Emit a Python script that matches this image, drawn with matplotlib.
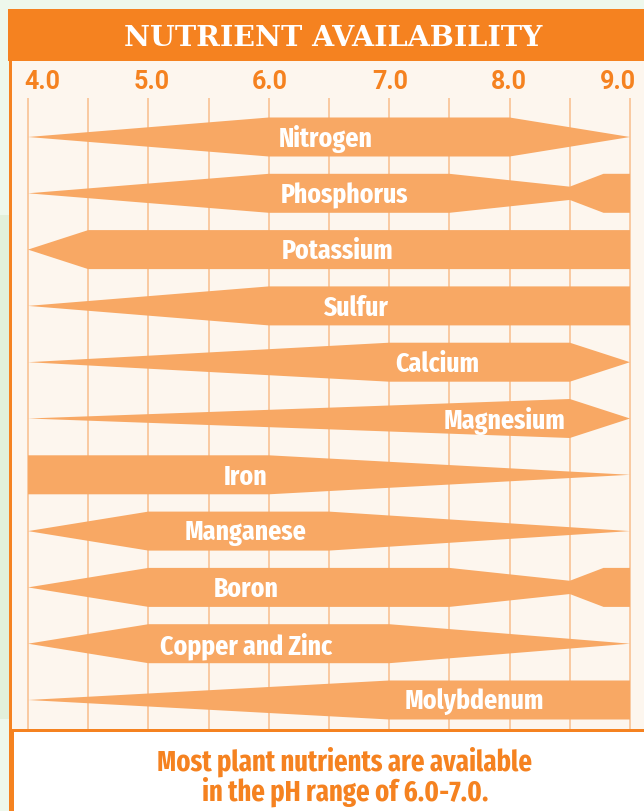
import matplotlib
matplotlib.use("Agg")
import matplotlib.pyplot as plt
from matplotlib import font_manager as fm
from matplotlib.patches import Rectangle, Polygon

# nutrient availability chart, pH 4.0 - 9.0
nutrients = ["Nitrogen", "Phosphorus", "Potassium", "Sulfur", "Calcium", "Magnesium",
             "Iron", "Manganese", "Boron", "Copper and Zinc", "Molybdenum"]

# band profile: (pH, relative thickness 0..1)
profiles = [
    [(4.0, 0), (6.0, 1), (8.0, 1), (9.0, 0)],
    [(4.0, 0), (6.0, 1), (7.5, 1), (8.5, 0.34), (8.78, 1), (9.0, 1)],
    [(4.0, 0), (4.5, 1), (9.0, 1)],
    [(4.0, 0), (6.0, 1), (9.0, 1)],
    [(4.0, 0), (7.0, 1), (8.5, 1), (9.0, 0)],
    [(4.0, 0), (8.5, 1), (9.0, 0)],
    [(4.0, 1), (6.0, 1), (9.0, 0)],
    [(4.0, 0), (5.0, 1), (6.5, 1), (9.0, 0)],
    [(4.0, 0), (5.0, 1), (7.5, 1), (8.5, 0.34), (8.78, 1), (9.0, 1)],
    [(4.0, 0), (5.0, 1), (7.0, 1), (9.0, 0)],
    [(4.0, 0), (7.0, 1), (9.0, 1)],
]

# where each name sits along the band (pH)
label_ph = [6.47, 6.63, 6.57, 6.72, 7.40, 7.96, 5.81, 5.81, 5.81, 5.81, 7.71]

tick_text = ["4.0", "5.0", "6.0", "7.0", "8.0", "9.0"]
tick_pos = [4.12, 5.03, 6.01, 7.01, 7.99, 8.90]
grid_ph = [4.0, 4.5, 5.0, 5.5, 6.0, 6.5, 7.0, 7.5, 8.0, 8.5, 9.0]

ORANGE = "#f58220"
BAND = "#f8a864"
CREAM = "#fdf6ee"
GRID = "#f9c69a"


def wt(f):
    w = f.weight
    if isinstance(w, str):
        return 700 if "bold" in w.lower() else 400
    return w


# look for the narrowest bold sans file, else Roboto bold
cands = []
for f in fm.fontManager.ttflist:
    nm = f.name.lower()
    fn = f.fname.lower().replace("-", "").replace("_", "")
    if "mono" in nm or "serif" in nm or "cjk" in nm or "italic" in str(f.style) or "oblique" in str(f.style):
        continue
    if not (650 <= wt(f) <= 750):
        continue
    if "extracondensed" in fn or "ultracondensed" in fn or "extcond" in fn:
        r = 0
    elif "semicondensed" in fn:
        r = 3
    elif "condensed" in fn or "narrow" in fn or "condensed" in nm or "narrow" in nm or "cond" in str(f.stretch):
        r = 2
    else:
        continue
    cands.append((r, f.fname))
cands.sort()
if cands:
    FP = fm.FontProperties(fname=cands[0][1])
else:
    FP = fm.FontProperties(family=["Roboto", "DejaVu Sans"], weight="bold")
FP_TICK = fm.FontProperties(family=["Roboto", "DejaVu Sans"], weight="bold")

W, H = 644, 812
fig = plt.figure(figsize=(W / 100, H / 100), dpi=100)
fig.patch.set_facecolor("#eef8ec")
rend = fig.canvas.get_renderer()


def fit(s, target, prop=FP, base=20.0):
    # font size so that s is about target pixels wide
    t = fig.text(0, 0, s, fontproperties=prop, fontsize=base)
    w = t.get_window_extent(renderer=rend).width
    t.remove()
    return base * target / w


fs_bar = fit("Nitrogen", 94)
fs_tick = fit("4.0", 36, FP_TICK)
fs_note = fit("Most plant nutrients are available", 376)

# background / frame pieces in pixel coords
bg = fig.add_axes([0, 0, 1, 1])
bg.set_xlim(0, W)
bg.set_ylim(H, 0)
bg.axis("off")
bg.add_patch(Rectangle((0, 216), 9, 504, color="#e2f0da", lw=0))
bg.add_patch(Rectangle((9, 10), W - 9, 722, color=CREAM, lw=0))
bg.add_patch(Rectangle((8, 10), W - 8, 52, color=ORANGE, lw=0))
bg.add_patch(Rectangle((9, 62), 3, 670, color=ORANGE, lw=0))
bg.add_patch(Rectangle((9, 732), W - 9, 80, color="white", lw=0))
bg.add_patch(Rectangle((9, 730), W - 9, 3, color=ORANGE, lw=0))
bg.add_patch(Rectangle((9, 730), 5, 82, color=ORANGE, lw=0))
bg.text(333, 38, "NUTRIENT AVAILABILITY", color="white", fontsize=20.5,
        fontweight="bold", family="DejaVu Serif", ha="center", va="center")
bg.text(345, 777, "Most plant nutrients are available\nin the pH range of 6.0-7.0.",
        color=ORANGE, fontproperties=FP, fontsize=fs_note,
        ha="center", va="center", linespacing=1.0)

# main chart area
x0, x1, y0, y1 = 12, 644, 62, 730
ax = fig.add_axes([x0 / W, 1 - y1 / H, (x1 - x0) / W, (y1 - y0) / H])
ax.set_facecolor("none")
px = 120.4  # pixels per pH unit
ax.set_xlim(4.0 - (28 - x0) / px, 9.0 + (x1 - 630) / px)
row = 56.3
ax.set_ylim((y1 - 138) / row, (y0 - 138) / row)
ax.axis("off")

ax.vlines(grid_ph, (99 - 138) / row, (y1 - 138) / row, color=GRID, lw=1.3, zorder=1)

half = 19.5 / row
for i, (name, prof, lx) in enumerate(zip(nutrients, profiles, label_ph)):
    xs = [p[0] for p in prof]
    top = [i - half * p[1] for p in prof]
    bot = [i + half * p[1] for p in prof]
    pts = list(zip(xs, top)) + list(zip(xs[::-1], bot[::-1]))
    ax.add_patch(Polygon(pts, closed=True, color=BAND, lw=0, zorder=2))
    ax.text(lx, i + 0.02, name, color="white", fontproperties=FP, fontsize=fs_bar,
            ha="center", va="center", zorder=3)

for t, s in zip(tick_pos, tick_text):
    ax.text(t, (82 - 138) / row, s, color=ORANGE, fontproperties=FP_TICK, fontsize=fs_tick,
            ha="center", va="center")

fig.savefig("out.png", dpi=100, facecolor=fig.get_facecolor())
